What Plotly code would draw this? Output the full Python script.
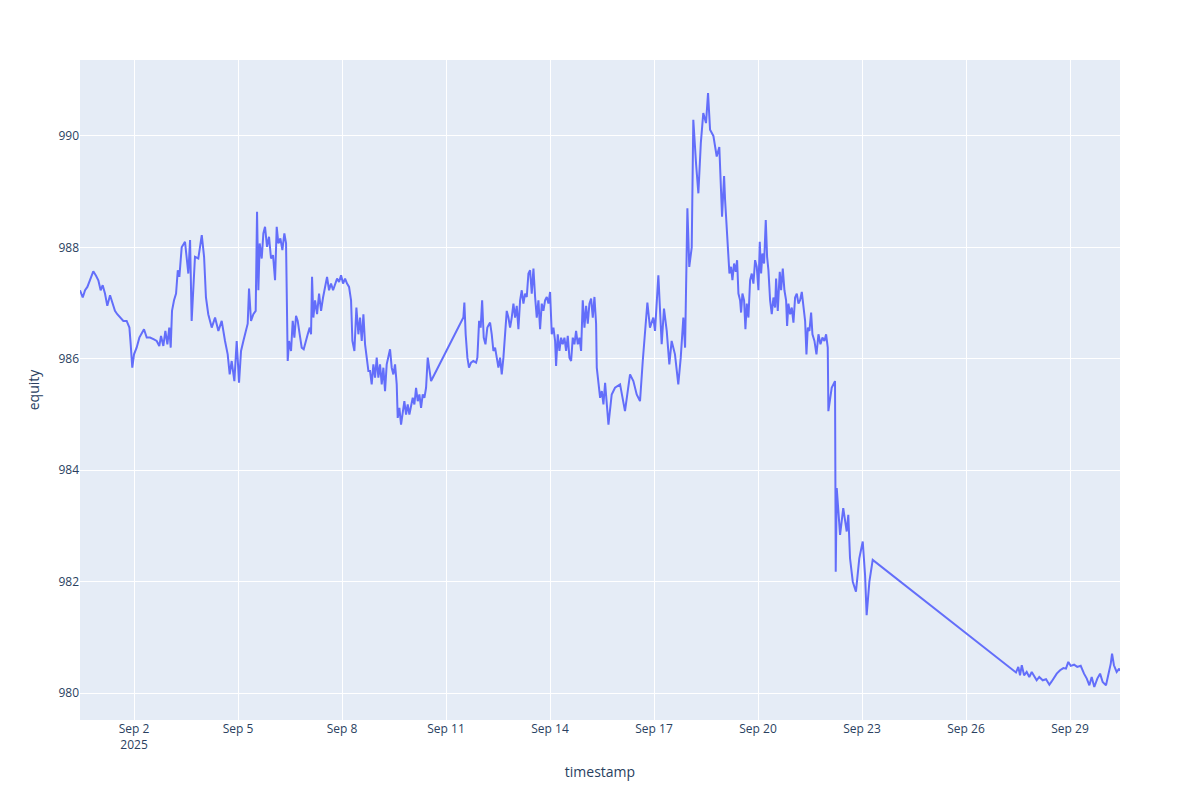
import plotly.graph_objects as go

# Timestamps and equity values (two recording gaps:
# Sep 10 afternoon -> Sep 11 noon, and Sep 23 morning -> Sep 27 morning).
timestamps = [
    # Aug 31 - Sep 3 morning
    "2025-08-31 10:36", "2025-08-31 12:30", "2025-08-31 14:06", "2025-08-31 15:42",
    "2025-08-31 17:30", "2025-08-31 19:48", "2025-08-31 21:42", "2025-08-31 23:18",
    "2025-09-01 00:54", "2025-09-01 02:18", "2025-09-01 03:54", "2025-09-01 05:30",
    "2025-09-01 07:24", "2025-09-01 09:12", "2025-09-01 10:48", "2025-09-01 12:24",
    "2025-09-01 14:18", "2025-09-01 16:36", "2025-09-01 18:54", "2025-09-01 20:48",
    "2025-09-01 21:42", "2025-09-01 22:48", "2025-09-02 00:00", "2025-09-02 01:48",
    "2025-09-02 03:42", "2025-09-02 05:18", "2025-09-02 06:54", "2025-09-02 08:48",
    "2025-09-02 11:06", "2025-09-02 13:48", "2025-09-02 15:42", "2025-09-02 17:30",
    "2025-09-02 18:42", "2025-09-02 20:18", "2025-09-02 21:42", "2025-09-02 23:06",
    "2025-09-03 00:24", "2025-09-03 01:24", "2025-09-03 02:18", "2025-09-03 03:42",
    "2025-09-03 05:06", "2025-09-03 06:18", "2025-09-03 07:24", "2025-09-03 08:18",
    # Sep 3 - Sep 4 midday
    "2025-09-03 09:00", "2025-09-03 11:18", "2025-09-03 13:36", "2025-09-03 14:48",
    "2025-09-03 15:54", "2025-09-03 18:12", "2025-09-03 20:30", "2025-09-03 22:54",
    "2025-09-04 00:30", "2025-09-04 01:48", "2025-09-04 03:24", "2025-09-04 05:48",
    "2025-09-04 08:06", "2025-09-04 10:24", "2025-09-04 12:42",
    # Sep 4 afternoon - Sep 8 evening
    "2025-09-04 15:00", "2025-09-04 16:51", "2025-09-04 18:14", "2025-09-04 19:37",
    "2025-09-04 21:28", "2025-09-04 23:05", "2025-09-05 00:42", "2025-09-05 02:05",
    "2025-09-05 03:42", "2025-09-05 05:19", "2025-09-05 06:42", "2025-09-05 07:37",
    "2025-09-05 09:00", "2025-09-05 10:37", "2025-09-05 12:14", "2025-09-05 13:10",
    "2025-09-05 14:05", "2025-09-05 15:00", "2025-09-05 16:24", "2025-09-05 17:33",
    "2025-09-05 18:42", "2025-09-05 20:05", "2025-09-05 21:28", "2025-09-05 22:51",
    "2025-09-06 00:14", "2025-09-06 01:38", "2025-09-06 02:47", "2025-09-06 03:56",
    "2025-09-06 05:19", "2025-09-06 06:42", "2025-09-06 08:05", "2025-09-06 09:15",
    "2025-09-06 09:56", "2025-09-06 10:24", "2025-09-06 11:19", "2025-09-06 12:42",
    "2025-09-06 13:52", "2025-09-06 15:01", "2025-09-06 16:10", "2025-09-06 17:19",
    "2025-09-06 18:42", "2025-09-06 20:06", "2025-09-06 21:29", "2025-09-06 22:52",
    "2025-09-07 00:15", "2025-09-07 01:38", "2025-09-07 02:33", "2025-09-07 03:15",
    "2025-09-07 04:10", "2025-09-07 05:20", "2025-09-07 06:43", "2025-09-07 08:06",
    "2025-09-07 09:29", "2025-09-07 10:52", "2025-09-07 12:15", "2025-09-07 13:38",
    "2025-09-07 15:01", "2025-09-07 16:24", "2025-09-07 17:48", "2025-09-07 19:11",
    "2025-09-07 20:34", "2025-09-07 21:57", "2025-09-07 23:20", "2025-09-08 00:43",
    "2025-09-08 02:06", "2025-09-08 03:29", "2025-09-08 04:52", "2025-09-08 06:15",
    "2025-09-08 07:11", "2025-09-08 08:34", "2025-09-08 09:57", "2025-09-08 11:20",
    "2025-09-08 12:29", "2025-09-08 13:39", "2025-09-08 14:48", "2025-09-08 15:57",
    "2025-09-08 17:06", "2025-09-08 18:16",
    # Sep 8 evening - Sep 10 afternoon
    "2025-09-08 19:24", "2025-09-08 20:33", "2025-09-08 21:42", "2025-09-08 22:52",
    "2025-09-09 00:01", "2025-09-09 01:10", "2025-09-09 02:19", "2025-09-09 03:29",
    "2025-09-09 04:38", "2025-09-09 05:47", "2025-09-09 06:56", "2025-09-09 08:06",
    "2025-09-09 09:15", "2025-09-09 10:24", "2025-09-09 11:33", "2025-09-09 12:43",
    "2025-09-09 13:52", "2025-09-09 14:33", "2025-09-09 15:43", "2025-09-09 16:52",
    "2025-09-09 18:01", "2025-09-09 19:10", "2025-09-09 20:20", "2025-09-09 21:29",
    "2025-09-09 22:38", "2025-09-09 23:48", "2025-09-10 00:57", "2025-09-10 02:06",
    "2025-09-10 03:15", "2025-09-10 04:25", "2025-09-10 05:34", "2025-09-10 06:43",
    "2025-09-10 07:52", "2025-09-10 09:02", "2025-09-10 10:11", "2025-09-10 11:20",
    "2025-09-10 12:29", "2025-09-10 13:39", "2025-09-10 14:48",
    # Sep 11 noon - Sep 12 morning
    "2025-09-11 12:00", "2025-09-11 12:42", "2025-09-11 13:36", "2025-09-11 14:48",
    "2025-09-11 15:54", "2025-09-11 17:18", "2025-09-11 18:54", "2025-09-11 20:48",
    "2025-09-11 21:42", "2025-09-11 22:54", "2025-09-12 00:00", "2025-09-12 01:00",
    "2025-09-12 02:06", "2025-09-12 03:18", "2025-09-12 04:36", "2025-09-12 05:48",
    # Sep 12 morning - Sep 15 afternoon
    "2025-09-12 06:30", "2025-09-12 07:39", "2025-09-12 08:48", "2025-09-12 09:58",
    "2025-09-12 11:07", "2025-09-12 12:16", "2025-09-12 13:25", "2025-09-12 14:35",
    "2025-09-12 15:44", "2025-09-12 16:53", "2025-09-12 18:02", "2025-09-12 19:12",
    "2025-09-12 20:21", "2025-09-12 21:30", "2025-09-12 22:40", "2025-09-12 23:49",
    "2025-09-13 00:58", "2025-09-13 02:07", "2025-09-13 03:17", "2025-09-13 04:26",
    "2025-09-13 05:35", "2025-09-13 06:44", "2025-09-13 07:54", "2025-09-13 09:03",
    "2025-09-13 10:12", "2025-09-13 11:21", "2025-09-13 12:31", "2025-09-13 13:40",
    "2025-09-13 14:49", "2025-09-13 15:58", "2025-09-13 17:07", "2025-09-13 18:17",
    "2025-09-13 19:26", "2025-09-13 20:35", "2025-09-13 21:45", "2025-09-13 22:54",
    "2025-09-14 00:03", "2025-09-14 01:12", "2025-09-14 02:22", "2025-09-14 03:31",
    "2025-09-14 04:12", "2025-09-14 05:21", "2025-09-14 06:31", "2025-09-14 07:40",
    "2025-09-14 08:49", "2025-09-14 09:59", "2025-09-14 11:08", "2025-09-14 12:17",
    "2025-09-14 13:26", "2025-09-14 14:36", "2025-09-14 15:45", "2025-09-14 16:54",
    "2025-09-14 18:03", "2025-09-14 19:13", "2025-09-14 20:22", "2025-09-14 21:31",
    "2025-09-14 22:40", "2025-09-14 23:50", "2025-09-15 00:59", "2025-09-15 02:08",
    "2025-09-15 03:17", "2025-09-15 04:27", "2025-09-15 05:36", "2025-09-15 06:45",
    "2025-09-15 07:54", "2025-09-15 08:22", "2025-09-15 09:31", "2025-09-15 10:41",
    "2025-09-15 11:50", "2025-09-15 12:59", "2025-09-15 14:08", "2025-09-15 15:18",
    "2025-09-15 16:27",
    # Sep 15 evening - Sep 19 midnight
    "2025-09-15 18:42", "2025-09-15 21:00", "2025-09-16 00:30", "2025-09-16 03:54",
    "2025-09-16 07:24", "2025-09-16 09:42", "2025-09-16 12:00", "2025-09-16 14:18",
    "2025-09-16 16:12", "2025-09-16 17:48", "2025-09-16 19:24", "2025-09-16 21:12",
    "2025-09-16 23:30", "2025-09-17 00:42", "2025-09-17 03:00", "2025-09-17 05:18",
    "2025-09-17 06:54", "2025-09-17 08:48", "2025-09-17 10:36", "2025-09-17 12:12",
    "2025-09-17 14:30", "2025-09-17 16:48", "2025-09-17 18:30", "2025-09-17 20:18",
    "2025-09-17 21:30", "2025-09-17 23:06", "2025-09-18 00:24", "2025-09-18 02:06",
    "2025-09-18 03:12", "2025-09-18 05:06", "2025-09-18 06:42", "2025-09-18 08:24",
    "2025-09-18 10:06", "2025-09-18 12:00", "2025-09-18 13:24", "2025-09-18 14:48",
    "2025-09-18 17:06", "2025-09-18 19:24", "2025-09-18 21:12", "2025-09-18 23:06",
    "2025-09-19 00:30",
    # Sep 19 - Sep 22 midnight
    "2025-09-19 01:12", "2025-09-19 02:21", "2025-09-19 03:30", "2025-09-19 04:12",
    "2025-09-19 05:21", "2025-09-19 06:17", "2025-09-19 07:26", "2025-09-19 08:35",
    "2025-09-19 09:31", "2025-09-19 10:26", "2025-09-19 11:35", "2025-09-19 12:17",
    "2025-09-19 13:12", "2025-09-19 14:21", "2025-09-19 15:17", "2025-09-19 16:12",
    "2025-09-19 17:22", "2025-09-19 18:31", "2025-09-19 19:40", "2025-09-19 20:49",
    "2025-09-19 21:59", "2025-09-19 23:08", "2025-09-20 00:17", "2025-09-20 01:12",
    "2025-09-20 02:08", "2025-09-20 03:03", "2025-09-20 04:12", "2025-09-20 05:22",
    "2025-09-20 06:17", "2025-09-20 07:12", "2025-09-20 08:22", "2025-09-20 09:31",
    "2025-09-20 10:40", "2025-09-20 11:50", "2025-09-20 12:31", "2025-09-20 13:40",
    "2025-09-20 15:03", "2025-09-20 15:59", "2025-09-20 17:08", "2025-09-20 18:17",
    "2025-09-20 19:26", "2025-09-20 20:08", "2025-09-20 21:03", "2025-09-20 22:13",
    "2025-09-20 23:22", "2025-09-21 00:31", "2025-09-21 01:40", "2025-09-21 02:50",
    "2025-09-21 03:59", "2025-09-21 05:08", "2025-09-21 06:18", "2025-09-21 07:27",
    "2025-09-21 08:36", "2025-09-21 09:31", "2025-09-21 10:27", "2025-09-21 11:36",
    "2025-09-21 12:45", "2025-09-21 13:41", "2025-09-21 15:04", "2025-09-21 16:27",
    "2025-09-21 17:50", "2025-09-21 19:13", "2025-09-21 20:36", "2025-09-21 21:59",
    "2025-09-21 23:08", "2025-09-22 00:17",
    # Sep 22 - Sep 23 morning
    "2025-09-22 00:42", "2025-09-22 03:00", "2025-09-22 05:18", "2025-09-22 05:48",
    "2025-09-22 06:30", "2025-09-22 08:48", "2025-09-22 11:00", "2025-09-22 13:24",
    "2025-09-22 14:30", "2025-09-22 15:42", "2025-09-22 17:36", "2025-09-22 19:48",
    "2025-09-22 22:06", "2025-09-23 00:30", "2025-09-23 02:06", "2025-09-23 03:12",
    "2025-09-23 05:06", "2025-09-23 07:24",
    # Sep 27 - Sep 30
    "2025-09-27 10:36", "2025-09-27 12:12", "2025-09-27 13:24", "2025-09-27 14:36",
    "2025-09-27 16:12", "2025-09-27 18:00", "2025-09-27 19:48", "2025-09-27 21:30",
    "2025-09-27 23:06", "2025-09-28 00:54", "2025-09-28 02:42", "2025-09-28 05:06",
    "2025-09-28 07:24", "2025-09-28 09:42", "2025-09-28 11:18", "2025-09-28 12:54",
    "2025-09-28 14:48", "2025-09-28 17:06", "2025-09-28 19:24", "2025-09-28 21:12",
    "2025-09-28 22:48", "2025-09-29 00:30", "2025-09-29 02:48", "2025-09-29 05:00",
    "2025-09-29 07:24", "2025-09-29 09:42", "2025-09-29 11:36", "2025-09-29 13:24",
    "2025-09-29 15:00", "2025-09-29 16:48", "2025-09-29 18:54", "2025-09-29 20:48",
    "2025-09-29 22:36", "2025-09-30 00:54", "2025-09-30 02:30", "2025-09-30 04:12",
    "2025-09-30 05:06", "2025-09-30 06:24", "2025-09-30 08:18", "2025-09-30 10:06",
    "2025-09-30 10:36",
]

equity = [
    # Aug 31 - Sep 3 morning
    987.23, 987.10, 987.23, 987.29,
    987.41, 987.57, 987.49, 987.41,
    987.23, 987.32, 987.17, 986.95,
    987.14, 986.98, 986.86, 986.80,
    986.74, 986.68, 986.68, 986.56,
    986.26, 985.84, 986.08, 986.20,
    986.38, 986.47, 986.53, 986.38,
    986.38, 986.35, 986.32, 986.23,
    986.41, 986.23, 986.50, 986.26,
    986.56, 986.20, 986.86, 987.05,
    987.17, 987.59, 987.47, 987.77,
    # Sep 3 - Sep 4 midday
    988.00, 988.10, 987.53, 988.13,
    986.68, 987.83, 987.80, 988.22,
    987.83, 987.10, 986.80, 986.56,
    986.74, 986.50, 986.68,
    # Sep 4 afternoon - Sep 8 evening
    986.32, 986.08, 985.72, 985.96,
    985.60, 986.32, 985.57, 986.14,
    986.32, 986.50, 986.63, 987.26,
    986.68, 986.80, 986.86, 988.64,
    987.23, 988.07, 987.80, 988.25,
    988.37, 988.01, 988.19, 987.80,
    987.86, 987.41, 988.37, 988.07,
    988.16, 987.95, 988.25, 988.07,
    987.05, 985.96, 986.32, 986.14,
    986.68, 986.38, 986.77, 986.68,
    986.44, 986.20, 986.17, 986.32,
    986.44, 986.56, 986.44, 987.47,
    986.74, 987.05, 986.80, 987.17,
    986.86, 987.10, 987.32, 987.47,
    987.23, 987.35, 987.23, 987.35,
    987.44, 987.38, 987.50, 987.35,
    987.44, 987.35, 987.29, 987.05,
    986.32, 986.14, 986.92, 986.44,
    986.74, 986.32, 986.80, 986.26,
    985.96, 985.78,
    # Sep 8 evening - Sep 10 afternoon
    985.78, 985.54, 985.90, 985.66,
    986.02, 985.66, 985.90, 985.54,
    985.84, 985.42, 985.90, 986.05,
    986.17, 985.84, 985.72, 985.90,
    985.54, 984.94, 985.12, 984.82,
    985.06, 985.24, 985.00, 985.18,
    985.00, 985.18, 985.30, 985.18,
    985.48, 985.24, 985.36, 985.12,
    985.36, 985.30, 985.48, 986.02,
    985.78, 985.60, 985.66,
    # Sep 11 noon - Sep 12 morning
    986.74, 987.01, 986.44, 986.02,
    985.84, 985.93, 985.96, 985.93,
    986.02, 986.68, 986.56, 987.05,
    986.38, 986.26, 986.56, 986.62,
    # Sep 12 morning - Sep 15 afternoon
    986.65, 986.44, 986.14, 986.20,
    986.02, 985.84, 986.02, 985.72,
    986.02, 986.38, 986.86, 986.74,
    986.56, 986.74, 986.99, 986.74,
    986.95, 986.53, 987.05, 987.23,
    986.99, 987.17, 987.11, 987.53,
    987.59, 987.17, 987.62, 987.11,
    986.74, 987.05, 986.53, 986.99,
    986.86, 987.05, 987.11, 986.99,
    987.20, 986.44, 986.56, 986.32,
    985.87, 986.44, 986.14, 986.38,
    986.26, 986.38, 986.14, 986.41,
    986.02, 985.96, 986.38, 986.26,
    986.50, 986.26, 986.38, 986.14,
    987.05, 986.56, 986.95, 986.63,
    986.99, 987.08, 986.74, 987.11,
    986.63, 985.84, 985.54, 985.30,
    985.42, 985.18, 985.57, 985.24,
    984.82,
    # Sep 15 evening - Sep 19 midnight
    985.36, 985.48, 985.54, 985.06,
    985.72, 985.60, 985.36, 985.24,
    985.96, 986.44, 987.01, 986.56,
    986.74, 986.50, 987.50, 986.26,
    986.90, 986.50, 985.90, 986.32,
    986.08, 985.54, 986.02, 986.74,
    986.20, 988.70, 987.65, 988.00,
    990.29, 989.50, 988.97, 989.87,
    990.41, 990.23, 990.77, 990.11,
    990.00, 989.63, 989.80, 988.55,
    989.28,
    # Sep 19 - Sep 22 midnight
    988.85, 988.31, 987.95, 987.53,
    987.65, 987.41, 987.71, 987.56,
    987.77, 987.17, 987.05, 986.83,
    987.17, 987.05, 986.53, 986.99,
    986.74, 987.41, 987.53, 987.35,
    987.77, 987.65, 987.23, 988.10,
    987.53, 987.89, 987.71, 988.49,
    987.83, 987.59, 987.05, 986.80,
    987.10, 986.92, 987.44, 986.86,
    987.56, 987.23, 987.62, 987.23,
    987.05, 986.59, 986.99, 986.80,
    986.92, 986.65, 987.10, 987.17,
    986.99, 987.05, 987.20, 986.92,
    986.68, 986.08, 986.56, 986.50,
    986.83, 986.44, 986.32, 986.08,
    986.44, 986.26, 986.38, 986.32,
    986.44, 986.20,
    # Sep 22 - Sep 23 morning
    985.06, 985.48, 985.60, 982.18,
    983.68, 982.84, 983.32, 982.90,
    983.20, 982.42, 982.00, 981.82,
    982.42, 982.72, 982.12, 981.40,
    982.00, 982.39,
    # Sep 27 - Sep 30
    980.37, 980.47, 980.32, 980.50,
    980.32, 980.38, 980.29, 980.38,
    980.32, 980.23, 980.29, 980.23,
    980.25, 980.15, 980.21, 980.27,
    980.35, 980.41, 980.45, 980.44,
    980.56, 980.49, 980.51, 980.47,
    980.49, 980.35, 980.26, 980.14,
    980.29, 980.11, 980.26, 980.35,
    980.20, 980.14, 980.32, 980.53,
    980.71, 980.50, 980.38, 980.44,
    980.40,
]

assert len(timestamps) == len(equity)

fig = go.Figure()
fig.add_trace(go.Scatter(
    x=timestamps, y=equity, mode="lines",
    line=dict(color="#636efa", width=2),
    name="equity",
))
fig.update_layout(
    template="plotly",
    margin=dict(l=72, r=72, t=52, b=72),
    xaxis=dict(title_text="timestamp", tick0="2025-09-02", dtick=3 * 24 * 3600 * 1000),
    yaxis=dict(title_text="equity"),
    showlegend=False,
)
fig.write_html("out.html")
